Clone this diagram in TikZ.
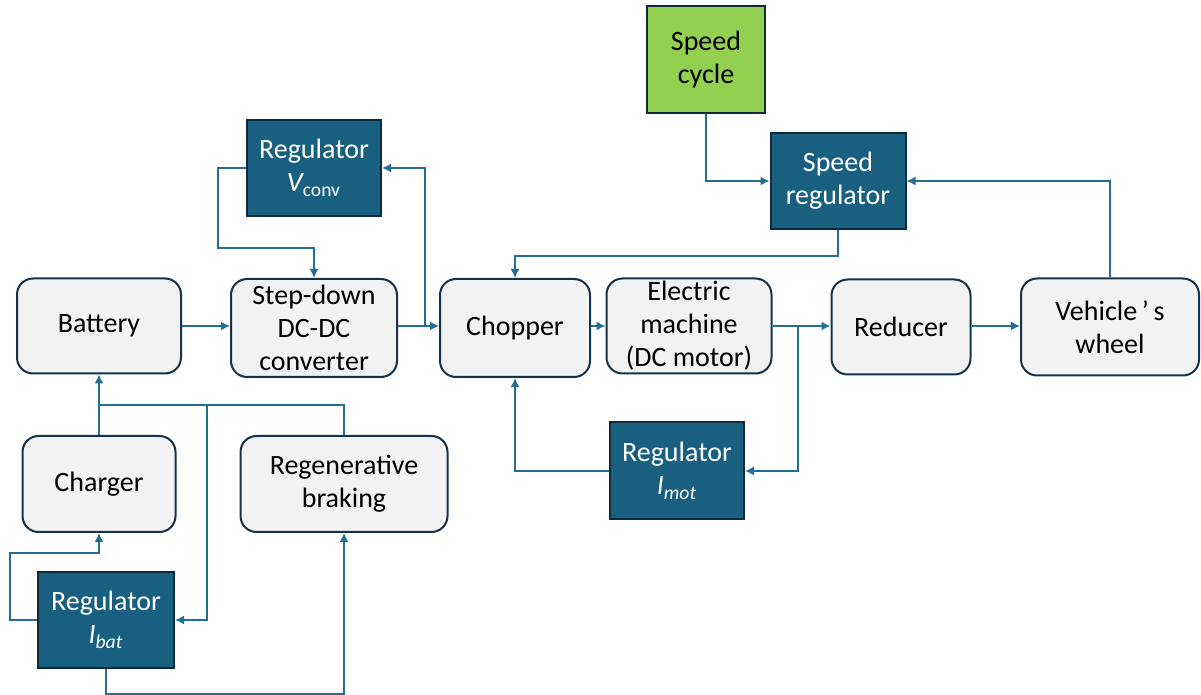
\documentclass[tikz,border=0pt]{standalone}
\usepackage{fontspec}
\setmainfont{Carlito}
\usepackage{tikz}
\usetikzlibrary{arrows.meta,positioning,calc}
\definecolor{BoxGrey}{HTML}{F2F2F2}
\definecolor{BoxEdge}{HTML}{15324A}
\definecolor{RegBlue}{HTML}{185F80}
\definecolor{RegEdge}{HTML}{0E2B3E}
\definecolor{CycGreen}{HTML}{92D050}
\definecolor{WireBlue}{HTML}{236F93}
\tikzset{
  block/.style={draw=BoxEdge, fill=BoxGrey, line width=1pt, rounded corners=8pt, align=center, inner sep=0pt},
  regbox/.style={draw=RegEdge, fill=RegBlue, text=white, line width=1pt, align=center, inner sep=0pt},
  cycbox/.style={draw=RegEdge, fill=CycGreen, line width=1pt, align=center, inner sep=0pt},
  wire/.style={draw=WireBlue, line width=0.8pt}
}
\begin{document}
\begin{tikzpicture}[x=0.5pt, y=-0.5pt, >={Latex[length=4.5pt,width=4.5pt]}, font=\fontsize{14}{16.5}\selectfont]
    \useasboundingbox (0,0) rectangle (1201,695);

    % Draw the main power chain
    \node[block, minimum width=82pt, minimum height=47.5pt] (bat) at (99,326) {Battery};
    \node[block, minimum width=83pt, minimum height=49pt] (conv) at (314,328) {Step-down\\DC-DC\\converter};
    \node[block, minimum width=75pt, minimum height=49pt] (chop) at (515,328) {Chopper};
    \node[block, minimum width=82.5pt, minimum height=47.5pt] (mach) at (689,326) {Electric\\machine\\(DC motor)};
    \node[block, minimum width=69.5pt, minimum height=47.5pt] (red) at (901,327) {Reducer};
    \node[block, minimum width=89pt, minimum height=48.5pt] (wheel) at (1110,327) {Vehicle\,'\,s\\wheel};

    % Draw the charging side
    \node[block, minimum width=76.5pt, minimum height=48pt] (chg) at (99,484) {Charger};
    \node[block, minimum width=103.5pt, minimum height=48pt] (regen) at (344,484) {Regenerative\\braking};

    % Draw the regulators
    \node[regbox, minimum width=67pt, minimum height=48pt] (regv) at (314,168) {Regulator\\{\itshape V}\textsubscript{conv}};
    \node[regbox, minimum width=67.5pt, minimum height=48pt] (regs) at (838,181) {Speed\\regulator};
    \node[regbox, minimum width=67pt, minimum height=48.5pt] (regm) at (677,471) {Regulator\\{\itshape I\textsubscript{mot}}};
    \node[regbox, minimum width=68pt, minimum height=48pt] (regb) at (106,620) {Regulator\\{\itshape I\textsubscript{bat}}};

    % Draw the speed cycle
    \node[cycbox, minimum width=59pt, minimum height=53.5pt] (cyc) at (706,60) {Speed\\cycle};

    % Branch points
    \coordinate (jv) at (425,326);
    \coordinate (jm) at (798,326);
    \coordinate (jb) at (99,405);
    \coordinate (jr) at (207,405);

    % Draw the chain arrows
    \foreach \src/\dst in {bat/conv, conv/chop, chop/mach, mach/red, red/wheel}{
        \draw[wire, ->] (\src.east |- bat.east) -- (\dst.west |- bat.east);
    }

    % Draw the converter loop
    \draw[wire, ->] (jv) |- (regv.east);
    \draw[wire, ->] (regv.west) -- ++(-28,0) -- ++(0,80) -| (conv.north);

    % Draw the current loop of the motor
    \draw[wire, ->] (jm) |- (regm.east);
    \draw[wire, ->] (regm.west) -| (chop.south);

    % Draw the speed loop
    \draw[wire, ->] (cyc.south) |- (regs.west);
    \draw[wire, ->] (wheel.north) |- (regs.east);
    \draw[wire, ->] (regs.south) -- ++(0,26) -| (chop.north);

    % Draw the battery loop
    \draw[wire, ->] (chg.north) -- (bat.south);
    \draw[wire] (jb) -| (regen.north);
    \draw[wire, ->] (jr) |- (regb.east);
    \draw[wire, ->] (regb.west) -- ++(-27,0) -- ++(0,-67) -| (chg.south);
    \draw[wire, ->] (regb.south) -- ++(0,25) -| (regen.south);
\end{tikzpicture}
\end{document}
